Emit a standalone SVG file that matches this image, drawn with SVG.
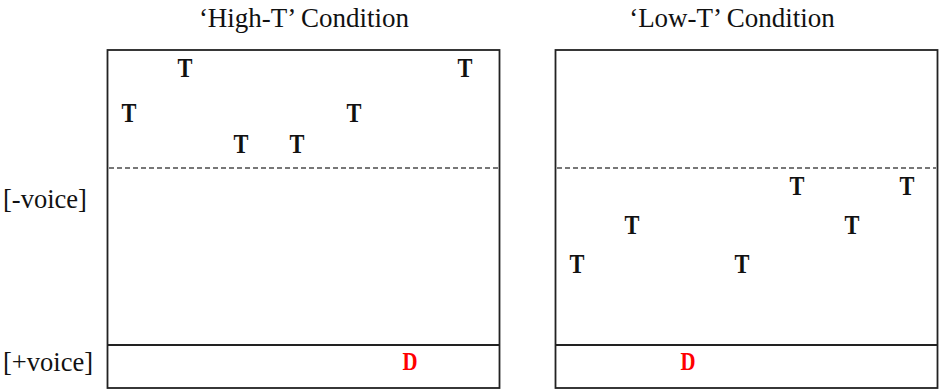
<svg xmlns="http://www.w3.org/2000/svg" width="941" height="390" viewBox="0 0 941 390">
  <style>
    .frame { fill: none; stroke: #222; stroke-width: 1.8; }
    .split { stroke: #222; stroke-width: 1.8; }
    .thresh { stroke: #777; stroke-width: 2; stroke-dasharray: 5 3; }
    .title { font-family: "Liberation Serif", "Times New Roman", serif; font-size: 27px; fill: #111; text-anchor: middle; }
    .axis { font-family: "Liberation Serif", "Times New Roman", serif; font-size: 26.5px; fill: #111; }
    .tok { font-family: "Liberation Serif", "Times New Roman", serif; font-weight: bold; font-size: 28px; fill: #111; text-anchor: middle; }
    .voiced { font-family: "Liberation Serif", "Times New Roman", serif; font-weight: bold; font-size: 26px; fill: #ff0000; text-anchor: middle; }
  </style>

  <!-- row labels -->
  <g id="label-minus-voice"><text class="axis" x="3" y="208">[-voice]</text></g>
  <g id="label-plus-voice"><text class="axis" x="3" y="371">[+voice]</text></g>

  <!-- High-T panel -->
  <g id="panel-high">
    <text class="title" x="304" y="27">‘High-T’ Condition</text>
    <rect class="frame" x="107.5" y="50" width="392" height="338"/>
    <line class="split" x1="107.5" y1="345" x2="499.5" y2="345"/>
    <line class="thresh" x1="109" y1="168" x2="498" y2="168"/>
    <text class="tok" transform="translate(185,77) scale(0.8,1)">T</text>
    <text class="tok" transform="translate(465,77) scale(0.8,1)">T</text>
    <text class="tok" transform="translate(129,122) scale(0.8,1)">T</text>
    <text class="tok" transform="translate(354,122) scale(0.8,1)">T</text>
    <text class="tok" transform="translate(241,153) scale(0.8,1)">T</text>
    <text class="tok" transform="translate(297,153) scale(0.8,1)">T</text>
    <text class="voiced" transform="translate(410,370) scale(0.8,1)">D</text>
  </g>

  <!-- Low-T panel -->
  <g id="panel-low">
    <text class="title" x="732" y="27">‘Low-T’ Condition</text>
    <rect class="frame" x="555.5" y="50" width="382" height="338"/>
    <line class="split" x1="555.5" y1="345" x2="937.5" y2="345"/>
    <line class="thresh" x1="557" y1="168" x2="936" y2="168"/>
    <text class="tok" transform="translate(797,195) scale(0.8,1)">T</text>
    <text class="tok" transform="translate(907,195) scale(0.8,1)">T</text>
    <text class="tok" transform="translate(632,234) scale(0.8,1)">T</text>
    <text class="tok" transform="translate(852,234) scale(0.8,1)">T</text>
    <text class="tok" transform="translate(577,273) scale(0.8,1)">T</text>
    <text class="tok" transform="translate(742,273) scale(0.8,1)">T</text>
    <text class="voiced" transform="translate(688,370) scale(0.8,1)">D</text>
  </g>
</svg>
